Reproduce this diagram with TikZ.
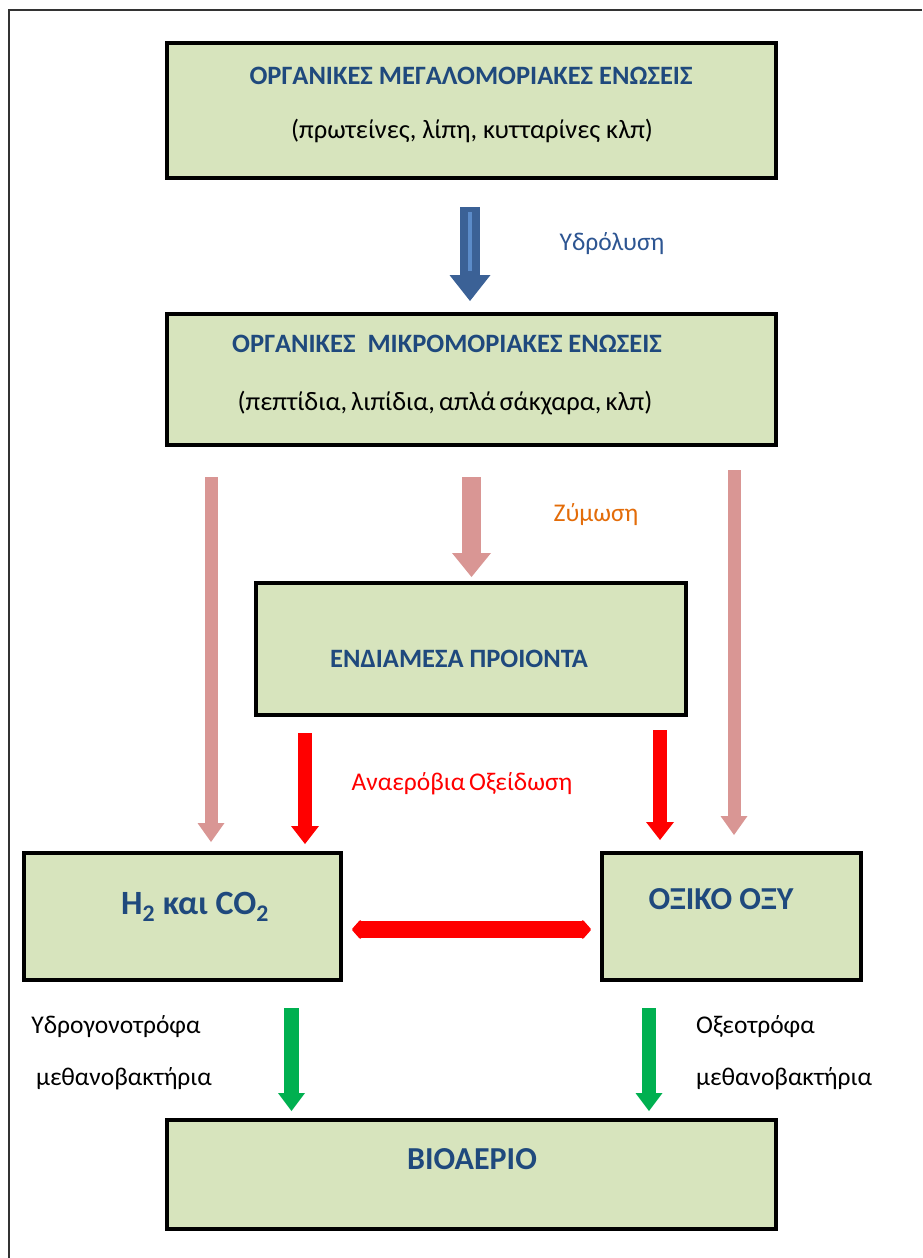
\documentclass[tikz,border=0pt]{standalone}
\usepackage{fontspec}
\setmainfont{Carlito}
\usetikzlibrary{arrows.meta,calc}
\definecolor{boxfill}{HTML}{D7E4BD}
\definecolor{titleblue}{HTML}{1F497D}
\definecolor{hydblue}{HTML}{2D5592}
\definecolor{arrblue}{HTML}{3B6196}
\definecolor{arrblueL}{HTML}{5B8BC9}
\definecolor{pinkarr}{HTML}{D99694}
\definecolor{orangetxt}{HTML}{E36C09}
\definecolor{redarr}{HTML}{FF0000}
\definecolor{greenarr}{HTML}{00B050}
\definecolor{framegray}{HTML}{333333}
\tikzset{
  box/.style={draw=black, line width=3.6pt, fill=boxfill, inner sep=0pt, rectangle},
  txt/.style={inner sep=0pt, text height=0.7em, text depth=0.2em, yshift=-6pt},
  ttl/.style={txt, text=titleblue, font=\bfseries\fontsize{26.5}{30}\selectfont},
  big/.style={txt, yshift=-3pt, text=titleblue, font=\bfseries\fontsize{32}{36}\selectfont},
  sub/.style={txt, text=black, font=\fontsize{26.5}{30}\selectfont},
  lbl/.style={txt, font=\fontsize{25.5}{30}\selectfont},
  blk/.style args={#1/#2/#3/#4}{draw=#1, line width=#2pt, -{Triangle[width=#3pt,length=#4pt,line width=0pt]}},
}
\begin{document}
\begin{tikzpicture}[x=1pt,y=-1pt]
\useasboundingbox (0,0) rectangle (922,1258);
% outer frame (top and left visible)
\draw[framegray, line width=1.6pt] (9,1258) -- (9,10) -- (922,10);

% boxes
\node[box, minimum width=609pt, minimum height=135pt] (b1) at (471.5,110.5) {};
\node[box, minimum width=609pt, minimum height=131pt] (b2) at (471.5,379.5) {};
\node[box, minimum width=430pt, minimum height=132pt] (b3) at (471,649) {};
\node[box, minimum width=317pt, minimum height=127pt] (b4) at (182.5,916.5) {};
\node[box, minimum width=259pt, minimum height=127pt] (b5) at (731.5,916.5) {};
\node[box, minimum width=609pt, minimum height=109pt] (b6) at (471.5,1174.5) {};

% texts in boxes
\node[ttl] (t1) at (471,76) {ΟΡΓΑΝΙΚΕΣ ΜΕΓΑΛΟΜΟΡΙΑΚΕΣ ΕΝΩΣΕΙΣ};
\node[sub] (s1) at (472,130) {(πρωτείνες, λίπη, κυτταρίνες κλπ)};
\node[ttl] (t2) at (447,344) {ΟΡΓΑΝΙΚΕΣ\ \ ΜΙΚΡΟΜΟΡΙΑΚΕΣ ΕΝΩΣΕΙΣ};
\node[sub] (s2) at (445,402) {(πεπτίδια,\hspace{0.15em}λιπίδια,\hspace{0.15em}απλά\hspace{0.15em}σάκχαρα,\hspace{0.15em}κλπ)};
\node[ttl] (t3) at (459,659) {ΕΝΔΙΑΜΕΣΑ ΠΡΟΙΟΝΤΑ};
\node[big, font=\bfseries\fontsize{34}{38}\selectfont] (t4) at (195,903) {H\textsubscript{2} και CO\textsubscript{2}};
\node[big] (t5) at (721,898) {ΟΞΙΚΟ ΟΞΥ};
\node[big] (t6) at (472,1158) {ΒΙΟΑΕΡΙΟ};

% labels
\node[lbl, text=hydblue] (l1) at (612,242) {Υδρόλυση};
\node[lbl, text=orangetxt] (l2) at (596,513) {Ζύμωση};
\node[lbl, text=redarr] (l3) at (462,782) {Αναερόβια\hspace{0.15em}Οξείδωση};
\node[lbl, text=black] (l4) at (116,1025) {Υδρογονοτρόφα};
\node[lbl, text=black] (l5) at (124,1077) {μεθανοβακτήρια};
\node[lbl, text=black, anchor=west] (l6) at (696,1025) {Οξεοτρόφα};
\node[lbl, text=black, anchor=west] (l7) at (696,1077) {μεθανοβακτήρια};

% arrow end coordinates
\coordinate (h1) at (470,207);   \coordinate (h2) at (470,301);
\coordinate (p1a) at (211,477);  \coordinate (p1b) at (211,842);
\coordinate (p2a) at (471.5,477);\coordinate (p2b) at (471.5,577);
\coordinate (p3a) at (734,470);  \coordinate (p3b) at (734,835);
\coordinate (r1a) at (305,733);  \coordinate (r1b) at (305,844);
\coordinate (r2a) at (660,730);  \coordinate (r2b) at (660,840);
\coordinate (da) at (352,929.5); \coordinate (db) at (591,929.5);
\coordinate (g1a) at (291.5,1008); \coordinate (g1b) at (291.5,1111);
\coordinate (g2a) at (649,1008); \coordinate (g2b) at (649,1111);

% hydrolysis arrow
\draw[blk={arrblue/20/41/26}] (h1) -- (h2);
\draw[arrblueL, line width=4pt] ($(h1)+(0,5)$) -- ($(h2)+(0,-30)$);

% fermentation arrows
\draw[blk={pinkarr/13/27/19}] (p1a) -- (p1b);
\draw[blk={pinkarr/19/39/24}] (p2a) -- (p2b);
\draw[blk={pinkarr/13/27/19}] (p3a) -- (p3b);

% anaerobic oxidation arrows
\draw[blk={redarr/14/28/18}] (r1a) -- (r1b);
\draw[blk={redarr/14/28/18}] (r2a) -- (r2b);

% double arrow
\draw[redarr, line width=17pt, {Triangle[width=22pt,length=10pt,round,line width=3pt]}-{Triangle[width=22pt,length=10pt,round,line width=3pt]}] (da) -- (db);

% methanogenesis arrows
\draw[blk={greenarr/15/27/18}] (g1a) -- (g1b);
\draw[blk={greenarr/14/27/18}] (g2a) -- (g2b);
\end{tikzpicture}
\end{document}
